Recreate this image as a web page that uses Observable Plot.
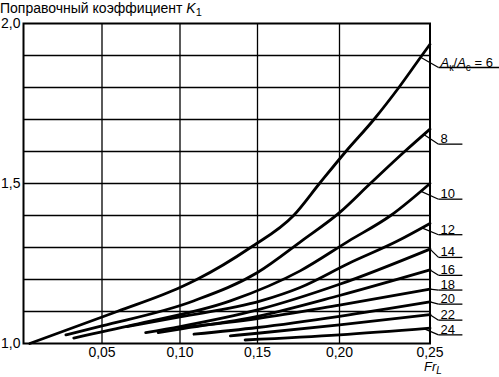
<!DOCTYPE html>
<html><head><meta charset="utf-8">
<script src="https://cdn.jsdelivr.net/npm/d3@7"></script>
<script src="https://cdn.jsdelivr.net/npm/@observablehq/plot@0.6"></script>
<style>
body{margin:0;background:#fff;}
#chart{position:relative;width:499px;height:377px;font-family:"Liberation Sans",Arial,sans-serif;color:#000;}
#chart svg{position:absolute;left:0;top:0;overflow:visible;}
#title{position:absolute;left:0;top:0px;font-size:14px;line-height:16px;white-space:nowrap;z-index:2;}
#title sub{font-size:11px;vertical-align:-3px;line-height:0;}
#xlabel sub{font-size:10px;vertical-align:-3px;line-height:0;}
#xlabel{position:absolute;left:424px;top:360px;font-size:13px;line-height:14px;white-space:nowrap;z-index:2;}
</style></head>
<body><div id="chart">
<div id="title">Поправочный коэффициент <i>K</i><sub>1</sub></div>
<div id="xlabel"><i>Fr</i><sub><i>L</i></sub></div>
</div>
<script>
// Ratio A_к/A_с for each curve
const ratios = [6, 8, 10, 12, 14, 16, 18, 20, 22, 24];
// Froude number Fr_L points of each curve
const frValues = [
  [0.004, 0.0597, 0.10, 0.1108, 0.1455, 0.172, 0.1878, 0.2035, 0.219, 0.2328, 0.2455, 0.25],
  [0.027, 0.05, 0.1087, 0.15, 0.177, 0.20, 0.217, 0.236, 0.25],
  [0.032, 0.07, 0.1325, 0.176, 0.205, 0.2283, 0.25],
  [0.066, 0.10, 0.152, 0.176, 0.205, 0.232, 0.25],
  [0.078, 0.10, 0.15, 0.20, 0.25],
  [0.086, 0.10, 0.15, 0.20, 0.25],
  [0.101, 0.15, 0.20, 0.25],
  [0.109, 0.15, 0.20, 0.25],
  [0.1325, 0.15, 0.20, 0.25],
  [0.142, 0.20, 0.25]
];
// Correction factor K1 values of each curve
const kValues = [
  [1.0, 1.1, 1.175, 1.2, 1.3, 1.4, 1.5, 1.6, 1.7, 1.8, 1.9, 1.935],
  [1.027, 1.055, 1.133, 1.222, 1.321, 1.409, 1.5, 1.6, 1.67],
  [1.017, 1.058, 1.133, 1.227, 1.32, 1.4, 1.5],
  [1.053, 1.083, 1.133, 1.175, 1.25, 1.32, 1.375],
  [1.034, 1.053, 1.105, 1.185, 1.295],
  [1.034, 1.045, 1.085, 1.15, 1.23],
  [1.05, 1.078, 1.12, 1.17],
  [1.029, 1.05, 1.085, 1.13],
  [1.024, 1.032, 1.058, 1.09],
  [1.011, 1.027, 1.048]
];
// Curve labels
const labelTexts = ["Aк/Aс = 6", "8", "10", "12", "14", "16", "18", "20", "22", "24"];
const labelLevel = [1.8625, 1.623, 1.451, 1.34, 1.269, 1.213, 1.167, 1.123, 1.073, 1.027];
const leaderFr = [0.2448, 0.2466, 0.2448, 0.2455, 0.25, 0.25, 0.25, 0.25, 0.25, 0.2466];
const labelFr = 0.2547;
const underlineEndFr = [0.2916, 0.2679, 0.2679, 0.2679, 0.2679, 0.2679, 0.2679, 0.2679, 0.2679, 0.2679];
// Axes
const xDomain = [0, 0.05, 0.10, 0.15, 0.20, 0.25];
const xTicks = [0.05, 0.10, 0.15, 0.20, 0.25];
const yTicks = [1.0, 1.5, 2.0];
const xGrid = [0.05, 0.10, 0.15, 0.20];
const yGrid = [1.1, 1.2, 1.3, 1.4, 1.5, 1.6, 1.7, 1.8, 1.9];

const curves = ratios.flatMap((r, i) => frValues[i].map((fr, j) => ({ratio: r, fr, k: kValues[i][j]})));
function interp(xs, ys, x) {
  for (let j = 1; j < xs.length; j++) {
    if (x <= xs[j]) { const t = (x - xs[j-1]) / (xs[j] - xs[j-1]); return ys[j-1] + t * (ys[j] - ys[j-1]); }
  }
  return ys[ys.length - 1];
}
const labels = ratios.map((r, i) => ({
  ratio: r,
  text: labelTexts[i],
  x0: leaderFr[i],
  y0: interp(frValues[i], kValues[i], leaderFr[i]),
  x1: labelFr,
  x2: underlineEndFr[i],
  y: labelLevel[i]
}));

const fmt = (n) => (d) => d.toFixed(n).replace(".", ",");
const plot = Plot.plot({
  width: 499,
  height: 377,
  marginLeft: 23,
  marginRight: 69.5,
  marginTop: 23,
  marginBottom: 34,
  style: {fontFamily: "'Liberation Sans', Arial, sans-serif", fontSize: "14px", color: "#000", background: "transparent"},
  x: {type: "linear", domain: xDomain, range: [23, 101.5, 179.5, 257, 339, 429.5]},
  y: {domain: [1, 2]},
  marks: [
    Plot.axisX(xTicks, {tickFormat: fmt(2), tickSize: 0, tickPadding: 4, fontSize: 14, label: null}),
    Plot.axisY(yTicks, {tickFormat: fmt(1), tickSize: 0, tickPadding: 3, fontSize: 14, label: null}),
    Plot.ruleX(xGrid, {stroke: "#000", strokeWidth: 1.3}),
    Plot.ruleY(yGrid, {stroke: "#000", strokeWidth: 1.3}),
    Plot.frame({stroke: "#000", strokeWidth: 2}),
    Plot.line(curves, {x: "fr", y: "k", z: "ratio", stroke: "#000", strokeWidth: 2.8, curve: "monotone-x"}),
    Plot.link(labels, {x1: "x0", y1: "y0", x2: "x1", y2: "y", stroke: "#000", strokeWidth: 1.2}),
    Plot.link(labels, {x1: "x1", y1: "y", x2: "x2", y2: "y", stroke: "#000", strokeWidth: 1.3}),
    Plot.text(labels, {x: "x1", y: "y", text: "text", textAnchor: "start", lineAnchor: "bottom", dx: 2, dy: -1, fontSize: 13, fill: "#000", className: "ratio-label"})
  ]
});
document.getElementById("chart").appendChild(plot);

// Rich text for the A_к/A_с label
d3.select(plot).selectAll(".ratio-label text").each(function() {
  const t = d3.select(this);
  if (t.text().startsWith("A")) {
    t.text("");
    t.append("tspan").attr("font-style", "italic").text("A");
    t.append("tspan").attr("font-size", 10).attr("dy", 4).text("к");
    t.append("tspan").attr("dy", -4).text("/");
    t.append("tspan").attr("font-style", "italic").text("A");
    t.append("tspan").attr("font-size", 10).attr("dy", 4).text("с");
    t.append("tspan").attr("dy", -4).text(" = 6");
  }
});
</script>
</body></html>
